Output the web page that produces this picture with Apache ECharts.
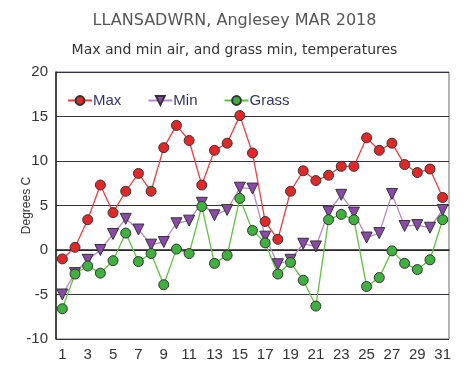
<!DOCTYPE html>
<html><head><meta charset="utf-8">
<script src="https://cdn.jsdelivr.net/npm/echarts@6/dist/echarts.min.js"></script>
<style>html,body{margin:0;padding:0;background:#fff}#c{width:469px;height:374px}</style>
</head><body><div id="c"></div>
<script>
var days = [];
for (var i = 1; i <= 31; i++) days.push(String(i));
var maxT = [-1.0,0.3,3.4,7.3,4.2,6.6,8.6,6.6,11.5,14.0,12.3,7.3,11.2,12.0,15.1,10.9,3.2,1.2,6.6,8.9,7.8,8.4,9.4,9.4,12.6,11.2,12.0,9.6,8.7,9.1,5.9];
var minT = [-5.0,-2.6,-1.1,0.0,1.8,3.5,2.3,0.6,0.9,3.0,3.3,5.3,3.9,4.5,7.0,6.9,1.5,-1.6,-1.1,0.7,0.4,4.3,6.2,4.2,1.4,1.9,6.3,2.7,2.8,2.5,4.5];
var grassT = [-6.6,-2.7,-1.8,-2.6,-1.2,1.9,-1.3,-0.4,-3.9,0.1,-0.4,4.9,-1.5,-0.6,5.8,2.2,0.8,-2.7,-1.4,-3.4,-6.3,3.4,4.0,3.4,-4.1,-3.1,-0.1,-1.5,-2.2,-1.1,3.4];
var yTicks = {min:-10, max:20, interval:5};

var chart = echarts.init(document.getElementById('c'));
chart.setOption({
  animation:false,
  title:[
    {text:'LLANSADWRN, Anglesey MAR 2018', left:'center', top:8,
     textStyle:{fontFamily:'DejaVu Sans', fontSize:16, fontWeight:'normal', color:'#555'}},
    {text:'Max and min air, and grass min, temperatures', left:'center', top:38,
     textStyle:{fontFamily:'DejaVu Sans', fontSize:14, fontWeight:'normal', color:'#333'}}
  ],
  legend:{
    top:88, left:62, itemGap:26, itemWidth:24, itemHeight:11,
    textStyle:{fontFamily:'Liberation Sans', fontSize:15, color:'#333366', padding:[0,0,0,-4]},
    data:['Max','Min','Grass']
  },
  grid:{left:56, right:20, top:72, bottom:35, show:true, borderColor:'#666', borderWidth:1, outerBoundsMode:'none', containLabel:false},
  xAxis:{
    type:'category', data:days, boundaryGap:true,
    axisLine:{lineStyle:{color:'#222', width:1.5}},
    axisTick:{show:false},
    axisLabel:{interval:1, fontFamily:'Liberation Sans', fontSize:15, color:'#333', margin:8}
  },
  yAxis:{
    type:'value', min:yTicks.min, max:yTicks.max, interval:yTicks.interval,
    name:'Degrees C', nameLocation:'middle', nameGap:23, nameMoveOverlap:false,
    nameTextStyle:{fontFamily:'Liberation Sans', fontSize:12, color:'#333'},
    axisLine:{show:true, lineStyle:{color:'#222', width:1.5}},
    axisTick:{show:false},
    axisLabel:{fontFamily:'Liberation Sans', fontSize:15, color:'#333', margin:8},
    splitLine:{lineStyle:{color:'#333344', width:1.2}}
  },
  series:[
    {name:'Max', type:'line', data:maxT, symbol:'circle', symbolSize:10, showAllSymbol:true,
     lineStyle:{color:'#e84040', width:1.3},
     itemStyle:{color:'#e02828', borderColor:'#333', borderWidth:1}},
    {name:'Min', type:'line', data:minT, symbol:'triangle', symbolRotate:180, symbolSize:11, showAllSymbol:true,
     lineStyle:{color:'#b888c8', width:1.3},
     itemStyle:{color:'#8a4aa8', borderColor:'#333', borderWidth:1}},
    {name:'Grass', type:'line', data:grassT, symbol:'circle', symbolSize:10, showAllSymbol:true,
     lineStyle:{color:'#60c040', width:1.3},
     itemStyle:{color:'#40b040', borderColor:'#333', borderWidth:1}}
  ]
});
</script></body></html>
